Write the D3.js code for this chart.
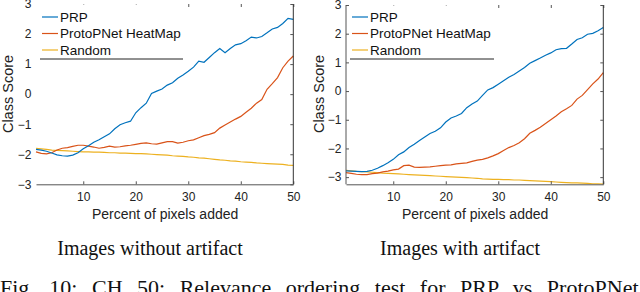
<!DOCTYPE html>
<html>
<head>
<meta charset="utf-8">
<script src="https://cdn.jsdelivr.net/npm/d3@7"></script>
<style>
  html, body { margin: 0; padding: 0; background: #fff; overflow: hidden; }
  svg { display: block; }
</style>
</head>
<body>
<div id="plot-container"></div>
<script>
// percent of pixels added
const percents = d3.range(1, 51);
const xTicks = [10, 20, 30, 40, 50];
const yTicksLeft = [-3, -2, -1, 0, 1, 2, 3];
const yTicksRight = [-3, -2, -1, 0, 1, 2, 3];
const seriesNames = ['PRP', 'ProtoPNet HeatMap', 'Random'];

// images without artifact
const prpNoArtifact = [-1.84, -1.86, -1.90, -1.96, -2.02, -2.05, -2.06, -2.03, -1.95, -1.82,
  -1.72, -1.60, -1.52, -1.42, -1.32, -1.15, -1.02, -0.95, -0.90, -0.62,
  -0.45, -0.30, 0.02, 0.10, 0.17, 0.30, 0.38, 0.53, 0.64, 0.76,
  0.90, 1.10, 1.06, 1.22, 1.38, 1.52, 1.38, 1.52, 1.64, 1.68,
  1.78, 1.90, 1.87, 1.92, 2.04, 2.17, 2.22, 2.35, 2.52, 2.49];
const protoNoArtifact = [-1.92, -1.97, -1.99, -1.95, -1.86, -1.80, -1.78, -1.74, -1.70, -1.70,
  -1.73, -1.76, -1.80, -1.77, -1.73, -1.76, -1.75, -1.72, -1.70, -1.67,
  -1.64, -1.62, -1.65, -1.66, -1.62, -1.58, -1.58, -1.63, -1.60, -1.55,
  -1.52, -1.45, -1.38, -1.34, -1.28, -1.13, -1.03, -0.93, -0.83, -0.74,
  -0.60, -0.47, -0.30, -0.18, 0.16, 0.35, 0.55, 0.88, 1.10, 1.27];
const randomNoArtifact = [-1.80, -1.82, -1.84, -1.86, -1.87, -1.88, -1.89, -1.90, -1.91, -1.92,
  -1.92, -1.93, -1.93, -1.94, -1.95, -1.95, -1.96, -1.96, -1.97, -1.98,
  -1.98, -1.99, -2.00, -2.01, -2.02, -2.03, -2.05, -2.06, -2.07, -2.09,
  -2.10, -2.12, -2.13, -2.15, -2.17, -2.19, -2.20, -2.22, -2.23, -2.25,
  -2.26, -2.27, -2.29, -2.30, -2.31, -2.32, -2.33, -2.34, -2.36, -2.37];

// images with artifact
const prpArtifact = [-2.78, -2.79, -2.80, -2.81, -2.80, -2.76, -2.69, -2.60, -2.50, -2.38,
  -2.22, -2.12, -1.97, -1.85, -1.72, -1.60, -1.48, -1.40, -1.28, -1.08,
  -0.94, -0.87, -0.78, -0.58, -0.45, -0.35, -0.15, 0.04, 0.12, 0.24,
  0.36, 0.48, 0.58, 0.70, 0.82, 0.97, 1.06, 1.15, 1.25, 1.33,
  1.44, 1.48, 1.49, 1.64, 1.80, 1.86, 1.98, 2.01, 2.10, 2.22];
const protoArtifact = [-2.84, -2.87, -2.90, -2.91, -2.91, -2.88, -2.86, -2.82, -2.79, -2.75,
  -2.72, -2.60, -2.58, -2.65, -2.66, -2.65, -2.64, -2.62, -2.60, -2.58,
  -2.57, -2.54, -2.52, -2.50, -2.45, -2.41, -2.38, -2.33, -2.26, -2.18,
  -2.07, -1.97, -1.90, -1.80, -1.66, -1.47, -1.37, -1.26, -1.13, -1.00,
  -0.87, -0.72, -0.62, -0.50, -0.28, -0.15, 0.05, 0.25, 0.42, 0.64];
const randomArtifact = [-2.76, -2.78, -2.80, -2.81, -2.82, -2.83, -2.84, -2.86, -2.87, -2.88,
  -2.89, -2.90, -2.91, -2.92, -2.93, -2.94, -2.95, -2.96, -2.97, -2.98,
  -2.99, -3.00, -3.01, -3.02, -3.03, -3.04, -3.06, -3.07, -3.08, -3.08,
  -3.09, -3.09, -3.10, -3.10, -3.11, -3.12, -3.13, -3.14, -3.15, -3.16,
  -3.17, -3.18, -3.19, -3.20, -3.20, -3.21, -3.22, -3.23, -3.23, -3.24];

const colors = ['#0072BD', '#D95319', '#EDB120'];
const sans = "'Liberation Sans', Arial, sans-serif";
const serif = "'Liberation Serif', 'Times New Roman', serif";

const width = 640, height = 292;
const svg = d3.select('#plot-container').append('svg')
  .attr('width', width).attr('height', height);

const panels = [
  { x0: 36, x1: 293.3, yDomain: [-3, 3], top: 4, yTicks: yTicksLeft, leftAxis: false,
    series: [prpNoArtifact, protoNoArtifact, randomNoArtifact],
    ylabelX: 13, legendX: 40, legendW: 143, title: 'Images without artifact', titleX: 150 },
  { x0: 346, x1: 603.3, yDomain: [-3.25, 3], top: 5, yTicks: yTicksRight, leftAxis: true,
    series: [prpArtifact, protoArtifact, randomArtifact],
    ylabelX: 324, legendX: 350, legendW: 144, title: 'Images with artifact', titleX: 460 }
];
const bottom = 184.3;
const axisColor = '#555';
const fmt = d3.format('d');

panels.forEach(p => {
  const x = d3.scaleLinear().domain([1, 50]).range([p.x0, p.x1]);
  const y = d3.scaleLinear().domain(p.yDomain).range([bottom, p.top]);
  const g = svg.append('g');

  // data lines (first series on top)
  const line = d3.line().x((d, i) => x(percents[i])).y(d => y(d));
  p.series.slice().reverse().forEach((s, k) => {
    const idx = p.series.length - 1 - k;
    g.append('path').attr('d', line(s))
      .attr('fill', 'none').attr('stroke', colors[idx]).attr('stroke-width', 1.2);
  });

  // bottom axis
  const xa = g.append('g').attr('transform', `translate(0,${bottom})`)
    .call(d3.axisBottom(x).tickValues(xTicks).tickFormat(fmt)
      .tickSizeInner(-3).tickSizeOuter(0).tickPadding(8.5));
  xa.select('.domain').attr('stroke', axisColor);
  xa.selectAll('.tick line').attr('stroke', axisColor);
  xa.selectAll('text').attr('font-family', sans).attr('font-size', 12).attr('fill', '#222');

  // top ticks
  g.append('g').attr('transform', `translate(0,${p.top})`)
    .call(d3.axisTop(x).tickValues(xTicks).tickSizeInner(-3).tickSizeOuter(0).tickFormat(''))
    .call(a => a.select('.domain').remove())
    .selectAll('.tick line').attr('stroke', axisColor);

  // left axis labels
  const ya = g.append('g').attr('transform', `translate(${p.x0},0)`)
    .call(d3.axisLeft(y).tickValues(p.yTicks).tickFormat(fmt)
      .tickSizeInner(p.leftAxis ? -3 : 0).tickSizeOuter(0).tickPadding(4.5));
  if (!p.leftAxis) ya.select('.domain').remove();
  else ya.select('.domain').attr('stroke', axisColor).attr('d', `M0,${bottom}V${p.top}`);
  ya.selectAll('.tick line').attr('stroke', axisColor);
  ya.selectAll('text').attr('font-family', sans).attr('font-size', 12).attr('fill', '#222');

  // right axis
  const yr = g.append('g').attr('transform', `translate(${p.x1},0)`)
    .call(d3.axisRight(y).tickValues(p.yTicks).tickSizeInner(-3).tickSizeOuter(0).tickFormat(''));
  yr.select('.domain').attr('stroke', '#333').attr('d', `M0,${bottom}V${p.top}`);
  yr.selectAll('.tick line').attr('stroke', axisColor);

  // axis labels
  g.append('text').attr('x', (p.x0 + p.x1) / 2 + 0.5).attr('y', 219)
    .attr('text-anchor', 'middle').attr('font-family', sans).attr('font-size', 14)
    .attr('fill', '#222').text('Percent of pixels added');
  g.append('text').attr('transform', `translate(${p.ylabelX},94) rotate(-90)`)
    .attr('text-anchor', 'middle').attr('font-family', sans).attr('font-size', 14.5)
    .attr('fill', '#222').text('Class Score');

  // legend
  const lg = g.append('g');
  lg.append('rect').attr('x', p.legendX).attr('y', p.top + 0.5).attr('width', p.legendW)
    .attr('height', 59 - p.top - 0.5).attr('fill', '#fff');
  lg.append('line').attr('x1', p.legendX).attr('x2', p.legendX + p.legendW)
    .attr('y1', 59).attr('y2', 59).attr('stroke', '#222').attr('stroke-width', 1);
  seriesNames.forEach((name, i) => {
    const ly = 17 + i * 16.5;
    lg.append('line').attr('x1', p.legendX + 2).attr('x2', p.legendX + 18)
      .attr('y1', ly).attr('y2', ly).attr('stroke', colors[i]).attr('stroke-width', 1.2);
    lg.append('text').attr('x', p.legendX + 20).attr('y', ly + 4.8)
      .attr('font-family', sans).attr('font-size', 13.5).attr('fill', '#111').text(name);
  });

  // subtitle
  svg.append('text').attr('x', p.titleX).attr('y', 255).attr('text-anchor', 'middle')
    .attr('font-family', serif).attr('font-size', 20).attr('fill', '#111').text(p.title);
});

// figure caption (cut off at the bottom edge)
svg.append('text').attr('x', 0).attr('y', 295)
  .attr('font-family', serif).attr('font-size', 22).attr('fill', '#111')
  .attr('word-spacing', 9)
  .text('Fig. 10: CH 50: Relevance ordering test for PRP vs ProtoPNet');
</script>
</body>
</html>
